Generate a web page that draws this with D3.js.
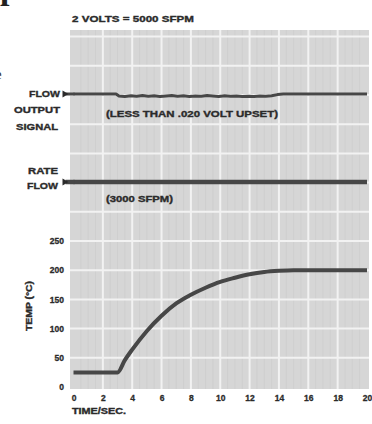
<!DOCTYPE html>
<html>
<head>
<meta charset="utf-8">
<script src="https://cdn.jsdelivr.net/npm/d3@7/dist/d3.min.js"></script>
<style>
  html, body { margin: 0; padding: 0; background: #fff; }
  svg { display: block; }
  .lbl { font-family: "Liberation Sans Narrow", "Arial Narrow", "Liberation Sans", Arial, sans-serif; font-weight: bold; fill: #2b2b2b; stroke: #2b2b2b; stroke-width: 0.35px; }
  .axis text { font-family: "Liberation Sans Narrow", "Arial Narrow", "Liberation Sans", Arial, sans-serif; font-weight: bold; fill: #2b2b2b; stroke: #2b2b2b; stroke-width: 0.3px; font-size: 8.5px; }
</style>
</head>
<body>
<script>
// Time axis (seconds)
const timeTicks = [0, 2, 4, 6, 8, 10, 12, 14, 16, 18, 20];
const tempTicks = [0, 50, 100, 150, 200, 250];

// Temperature response (°C) after the step at ~3 s
const tempTime = [0, 3, 3.5, 4, 5, 6, 7, 8, 9, 10, 11, 12, 13, 14, 15, 20];
const tempValue = [25, 25, 46, 64, 96, 122, 143, 158, 170, 180, 187, 193, 197, 199, 200, 200];

// Flow output signal (volts); 2 V = 5000 SFPM, 3000 SFPM = 1.2 V
const signalTime = [0, 1, 2, 2.9, 3.1, 3.5, 3.9, 4.3, 4.7, 5.1, 5.5, 5.9, 6.3, 6.7, 7.1, 7.5, 7.9, 8.3, 8.7, 9.1, 9.5, 9.9, 10.3, 10.7, 11.1, 11.5, 11.9, 12.3, 12.7, 13.1, 13.5, 13.9, 14.3, 16, 18, 20];
const signalVolts = [1.200, 1.200, 1.200, 1.200, 1.190, 1.188, 1.191, 1.189, 1.192, 1.189, 1.191, 1.188, 1.190, 1.192, 1.189, 1.191, 1.188, 1.190, 1.189, 1.192, 1.190, 1.188, 1.191, 1.189, 1.190, 1.187, 1.189, 1.188, 1.190, 1.189, 1.191, 1.197, 1.200, 1.200, 1.200, 1.200];

// Rate of flow (SFPM)
const rateTime = [0, 20];
const rateValue = [3000, 3000];

const W = 372, H = 424;
const svg = d3.select("body").append("svg").attr("width", W).attr("height", H);

const x = d3.scaleLinear().domain([0, 20]).range([73.5, 367]);
const yTemp = d3.scaleLinear().domain([0, 250]).range([387, 241]);
const ySignal = d3.scaleLinear().domain([1.18, 1.20]).range([98, 94]);
const yRate = d3.scaleLinear().domain([2000, 4000]).range([222, 142]);

// Edges of neighbouring page text
svg.append("text").attr("x", 0).attr("y", -1)
  .style("font-family", "Liberation Serif, serif").style("font-weight", "bold")
  .style("font-size", "34px").attr("fill", "#222").text("p");
svg.append("text").attr("x", -5).attr("y", 79)
  .style("font-family", "Liberation Serif, serif")
  .style("font-size", "15px").attr("fill", "#333").text("e");

// Chart paper
const plotL = 70, plotR = 369, plotT = 30, plotB = 389;
svg.append("rect").attr("x", plotL).attr("y", plotT)
  .attr("width", plotR - plotL).attr("height", plotB - plotT).attr("fill", "#d6d6d6");

const grid = svg.append("g");
// faint minor rulings
d3.range(0.5, 20, 0.5).filter(t => t % 2 !== 0).forEach(t => {
  grid.append("line").attr("x1", x(t)).attr("x2", x(t)).attr("y1", plotT).attr("y2", plotB)
    .attr("stroke", "#cdcdcd").attr("stroke-width", 0.8);
});
// major rulings
d3.range(2, 20, 2).forEach(t => {
  grid.append("line").attr("x1", x(t)).attr("x2", x(t)).attr("y1", plotT).attr("y2", plotB)
    .attr("stroke", "#f2f2f2").attr("stroke-width", 2);
});
d3.range(50, 601, 50).forEach(v => {
  const yy = yTemp(v);
  if (yy < plotT + 2) return;
  grid.append("line").attr("x1", plotL).attr("x2", plotR).attr("y1", yy).attr("y2", yy)
    .attr("stroke", "#f2f2f2").attr("stroke-width", 2);
});

const traceColor = "#474747";

// Arrow + lead-in for a trace starting at t = 0
function leadArrow(yy, w) {
  svg.append("line").attr("x1", x(0) - 8).attr("x2", x(0) + 1).attr("y1", yy).attr("y2", yy)
    .attr("stroke", traceColor).attr("stroke-width", w);
  svg.append("path")
    .attr("d", `M${x(0) - 11},${yy - 3.5} L${x(0) - 5},${yy} L${x(0) - 11},${yy + 3.5} Z`)
    .attr("fill", "#2b2b2b");
}

// Flow output signal trace
const sigLine = d3.line().x((d, i) => x(signalTime[i])).y(d => ySignal(d)).curve(d3.curveLinear);
svg.append("path").attr("d", sigLine(signalVolts))
  .attr("fill", "none").attr("stroke", traceColor).attr("stroke-width", 3).attr("stroke-linejoin", "round");
leadArrow(ySignal(signalVolts[0]), 3);

// Rate flow trace
const rateLine = d3.line().x((d, i) => x(rateTime[i])).y(d => yRate(d));
svg.append("path").attr("d", rateLine(rateValue))
  .attr("fill", "none").attr("stroke", traceColor).attr("stroke-width", 4.5);
leadArrow(yRate(rateValue[0]), 4.5);

// Temperature trace
const tempLine = d3.line().x((d, i) => x(tempTime[i])).y(d => yTemp(d)).curve(d3.curveMonotoneX);
svg.append("path").attr("d", tempLine(tempValue))
  .attr("fill", "none").attr("stroke", traceColor).attr("stroke-width", 4).attr("stroke-linejoin", "round");

// Axes
const xAxis = svg.append("g").attr("class", "axis").attr("transform", `translate(0,${plotB + 1})`)
  .call(d3.axisBottom(x).tickValues(timeTicks).tickSize(0).tickPadding(5));
xAxis.select(".domain").remove();

const yAxis = svg.append("g").attr("class", "axis").attr("transform", `translate(${plotL - 6},0)`)
  .call(d3.axisLeft(yTemp).tickValues(tempTicks).tickSize(0).tickPadding(0));
yAxis.select(".domain").remove();

// Labels
function label(txt, xx, yy, size, anchor, len) {
  const t = svg.append("text").attr("class", "lbl").attr("x", xx).attr("y", yy)
    .attr("text-anchor", anchor || "start").style("font-size", size + "px").text(txt);
  if (len) t.attr("textLength", len).attr("lengthAdjust", "spacingAndGlyphs");
  return t;
}
label("2 VOLTS = 5000 SFPM", 72, 22, 9, "start", 122);
label("FLOW", 60, 97, 9, "end", 31);
label("OUTPUT", 60, 113, 9, "end", 46);
label("SIGNAL", 58, 130, 9, "end", 42);
label("(LESS THAN .020 VOLT UPSET)", 106, 117, 9, "start", 172);
label("RATE", 58, 174, 9, "end", 30);
label("FLOW", 58, 189, 9, "end", 31);
label("(3000 SFPM)", 106, 202, 9, "start", 67);
label("TIME/SEC.", 72, 414, 8.5, "start", 54);

svg.append("text").attr("class", "lbl")
  .attr("transform", "translate(32,306) rotate(-90)")
  .attr("text-anchor", "middle").style("font-size", "8.5px")
  .attr("textLength", 50).attr("lengthAdjust", "spacingAndGlyphs")
  .text("TEMP (°C)");
</script>
</body>
</html>
